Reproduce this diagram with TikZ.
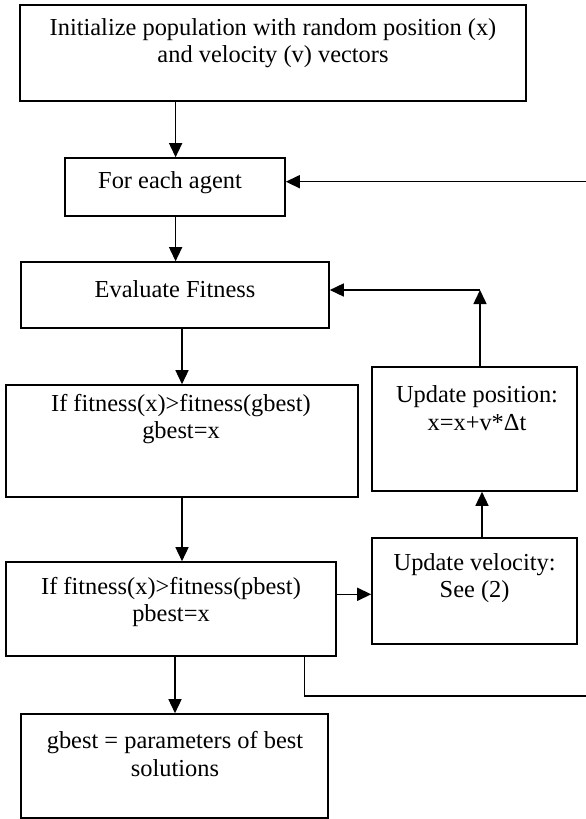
\documentclass[tikz,border=0pt]{standalone}
\usepackage{fontspec}
\setmainfont{Liberation Serif}
\usetikzlibrary{arrows.meta}
\begin{document}
\begin{tikzpicture}[x=1pt,y=-1pt,
  box/.style={draw,line width=1.6pt,rectangle,inner sep=0pt},
  txt/.style={align=center,inner sep=0pt,font=\fontsize{24.4}{27.5}\selectfont},
  arr/.style={line width=1.5pt,-{Triangle[length=14pt,width=13pt]}},
  ln/.style={line width=1.5pt}]
\useasboundingbox (0,0) rectangle (586,819);
% boxes
\node[box,minimum width=506pt,minimum height=96pt] (init) at (273,53) {};
\node[box,minimum width=220pt,minimum height=58pt] (agent) at (175,187) {};
\node[box,minimum width=308pt,minimum height=66pt] (eval) at (175,295) {};
\node[box,minimum width=352pt,minimum height=112pt] (gb) at (182,441) {};
\node[box,minimum width=205pt,minimum height=124pt] (pos) at (474.5,429) {};
\node[box,minimum width=330pt,minimum height=94pt] (pb) at (171,609) {};
\node[box,minimum width=205pt,minimum height=106pt] (vel) at (474.5,591) {};
\node[box,minimum width=307pt,minimum height=104pt] (fin) at (174.6,766) {};
% texts
\node[txt] (tinit) at (273,43) {Initialize population with random position (x)\\and velocity (v) vectors};
\node[txt] (tagent) at (170,183) {For each agent};
\node[txt] (teval) at (175,289) {Evaluate Fitness};
\node[txt] (tgb) at (181,419) {If fitness(x)>fitness(gbest)\\gbest=x};
\node[txt] (tpos) at (477,408) {Update position:\\x=x+v*Δt};
\node[txt] (tpb) at (171,602) {If fitness(x)>fitness(pbest)\\pbest=x};
\node[txt] (tvel) at (474.6,578) {Update velocity:\\See (2)};
\node[txt] (tfin) at (175,754) {gbest = parameters of best\\solutions};
% connectors
\draw[arr] (init.south -| 175.6,0) -- (agent.north -| 175.6,0);
\draw[arr] (agent.south -| 175.6,0) -- (eval.north -| 175.6,0);
\draw[arr] (eval.south -| 182,0) -- (gb.north -| 182,0);
\draw[arr] (gb.south -| 182,0) -- (pb.north -| 182,0);
\draw[arr] (pb.south -| 175,0) -- (fin.north -| 175,0);
\draw[arr] (pb.east |- 0,594.3) -- (vel.west |- 0,594.3);
\draw[arr] (vel.north -| 482,0) -- (pos.south -| 482,0);
\coordinate (c1) at (480,290);
\draw[arr] (pos.north -| 480,0) -- (c1);
\draw[arr] (c1) -- (eval.east |- c1);
\coordinate (r1) at (586,696);
\coordinate (r2) at (586,181.7);
\draw[ln] (pb.south -| 304.6,0) |- (r1);
\draw[arr] (r2) -- (agent.east |- r2);
\end{tikzpicture}
\end{document}
